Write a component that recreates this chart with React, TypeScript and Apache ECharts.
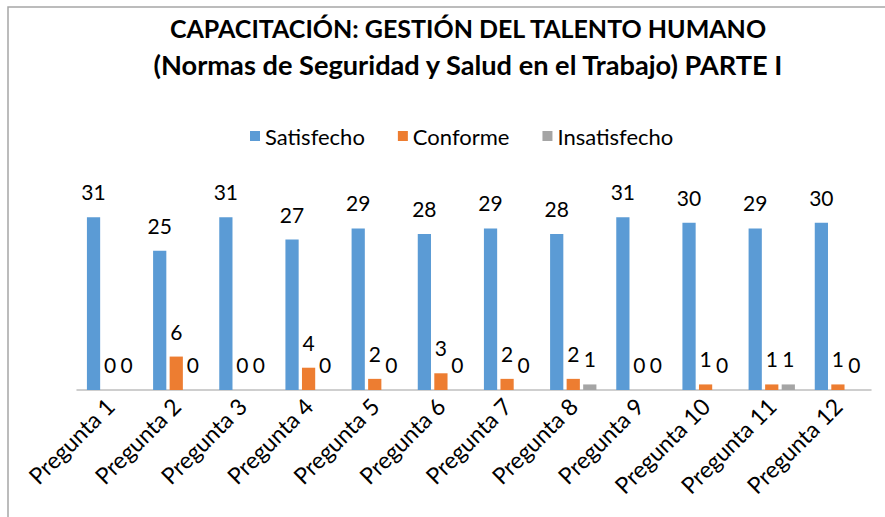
import React, { useEffect, useRef } from "react";
import * as echarts from "echarts";

const categories = [
  "Pregunta 1", "Pregunta 2", "Pregunta 3", "Pregunta 4", "Pregunta 5", "Pregunta 6",
  "Pregunta 7", "Pregunta 8", "Pregunta 9", "Pregunta 10", "Pregunta 11", "Pregunta 12",
];
const satisfecho = [31, 25, 31, 27, 29, 28, 29, 28, 31, 30, 29, 30];
const conforme = [0, 6, 0, 4, 2, 3, 2, 2, 0, 1, 1, 1];
const insatisfecho = [0, 0, 0, 0, 0, 0, 0, 1, 0, 0, 1, 0];
const titleLines = [
  "CAPACITACIÓN: GESTIÓN DEL TALENTO HUMANO",
  "(Normas de Seguridad y Salud en el Trabajo) PARTE I",
];

const FONT = "Lato, 'Open Sans', sans-serif";

export default function App() {
  const ref = useRef<HTMLDivElement>(null);
  useEffect(() => {
    document.body.style.margin = "0";
    const chart = echarts.init(ref.current!, undefined, { renderer: "svg" });
    const label = {
      show: true,
      position: "top",
      distance: 15,
      fontSize: 21,
      color: "#000",
      fontFamily: FONT,
    };
    const mk = (name: string, data: number[], color: string) => ({
      name,
      type: "bar",
      data,
      barGap: "25%",
      barCategoryGap: "30%",
      itemStyle: { color },
      label,
    });
    chart.setOption({
      animation: false,
      backgroundColor: "#fff",
      graphic: [
        {
          type: "rect",
          shape: { x: 8, y: 7, width: 1000, height: 700 },
          style: { fill: "none", stroke: "#a6a6a6", lineWidth: 1.5 },
          silent: true,
        },
      ],
      title: {
        text: `{a|${titleLines[0]}}\n{b|${titleLines[1]}}`,
        left: 463,
        textAlign: "center",
        top: 4,
        textStyle: {
          rich: {
            a: {
              fontFamily: FONT,
              fontWeight: "bold",
              fontSize: 25,
              lineHeight: 37,
              color: "#000",
              align: "center",
            },
            b: {
              fontFamily: FONT,
              fontWeight: "bold",
              fontSize: 27.2,
              lineHeight: 37,
              color: "#000",
              align: "center",
            },
          },
        },
      },
      legend: {
        top: 120,
        left: 245,
        icon: "rect",
        itemWidth: 10,
        itemHeight: 10,
        itemGap: 33,
        textStyle: { fontFamily: FONT, fontSize: 22, color: "#000" },
        data: ["Satisfecho", "Conforme", "Insatisfecho"],
      },
      grid: { left: 77, right: 14, top: 195, bottom: 127 },
      xAxis: {
        type: "category",
        data: categories,
        axisLine: { lineStyle: { color: "#bfbfbf", width: 1.5 } },
        axisTick: { show: false },
        axisLabel: {
          rotate: 45,
          interval: 0,
          margin: 12,
          fontSize: 23,
          color: "#000",
          fontFamily: FONT,
        },
      },
      yAxis: {
        type: "value",
        min: 0,
        max: 35,
        show: false,
        splitLine: { show: false },
      },
      series: [
        mk("Satisfecho", satisfecho, "#5b9bd5"),
        mk("Conforme", conforme, "#ed7d31"),
        mk("Insatisfecho", insatisfecho, "#a5a5a5"),
      ],
    });
    return () => chart.dispose();
  }, []);
  return <div ref={ref} style={{ width: 885, height: 517 }} />;
}
